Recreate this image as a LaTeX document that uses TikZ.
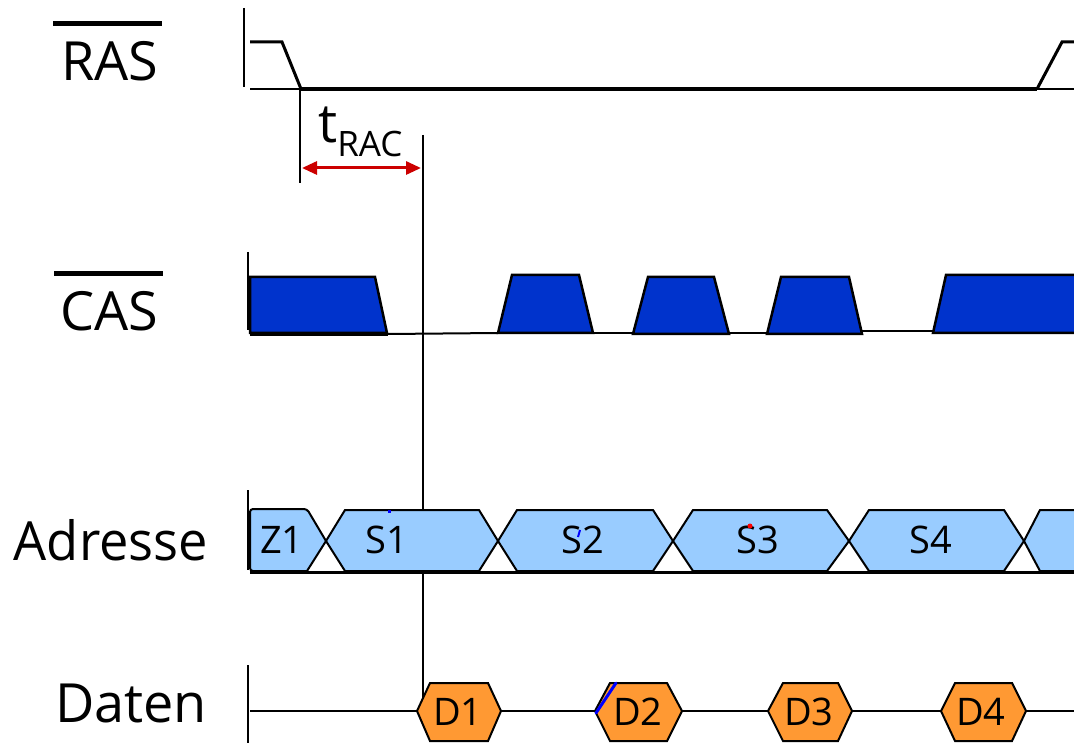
\documentclass[tikz,border=0pt]{standalone}
\usepackage{fontspec}
\setmainfont{Open Sans}
\usetikzlibrary{arrows.meta}
\definecolor{casblue}{RGB}{0,51,204}
\definecolor{adrblue}{RGB}{153,204,255}
\definecolor{datorange}{RGB}{255,153,51}
\definecolor{arrred}{RGB}{204,0,0}
\tikzset{
  tick/.style={line width=2pt},
  edge/.style={line width=3pt, line join=miter},
  lowline/.style={line width=4pt},
  refline/.style={line width=2pt},
  casblock/.style={fill=casblue, draw=black, line width=2.5pt, line join=miter},
  adrblock/.style={fill=adrblue, draw=black, line width=2pt, line join=miter},
  datblock/.style={fill=datorange, draw=black, line width=2pt, line join=miter},
  biglabel/.style={font=\fontsize{54}{60}\selectfont, inner sep=0pt, anchor=base},
  smalllabel/.style={font=\fontsize{38}{42}\selectfont, inner sep=0pt},
  overbar/.style={line width=5pt},
}
\begin{document}
\begin{tikzpicture}[x=1pt,y=-1pt]
\useasboundingbox (0,0) rectangle (1074,743);

% ---------- labels ----------
\node[biglabel] (ras) at (110,81) {RAS};
\node[biglabel] (cas) at (109,331) {CAS};
\node[biglabel] (adr) at (111,560) {\scalebox{0.97}[1]{Adresse}};
\node[biglabel] (dat) at (131,722) {Daten};
\draw[overbar] (53,24) -- (162,24);
\draw[overbar] (54,274) -- (163,274);

% ---------- RAS ----------
\draw[tick] (244,8) -- (244,87);
\coordinate (rasfall) at (301,89);
\coordinate (rasrise) at (1037,89);
\draw[edge] (250,42) -- (282,42) -- (rasfall);
\draw[refline] (250,89) -- (rasfall);
\draw[lowline] (rasfall) -- (rasrise);
\draw[edge] (rasrise) -- (1062,42) -- (1074,42);
\draw[refline] (rasrise) -- (1074,89);

% ---------- t_RAC ----------
\coordinate (tracA) at (300,89);
\coordinate (tracAb) at (300,183);
\coordinate (tracB) at (423,135);
\coordinate (tracBb) at (423,703);
\draw[refline] (tracA) -- (tracAb);
\draw[refline] (tracB) -- (tracBb);
\coordinate (arrL) at (302,168);
\coordinate (arrR) at (421,168);
\draw[arrred, line width=3pt, {Triangle[length=15pt,width=13pt]}-{Triangle[length=15pt,width=13pt]}] (arrL) -- (arrR);
\node[inner sep=0pt, anchor=base west, font=\fontsize{54}{60}\selectfont] (trac) at (318,143) {t\raisebox{-14pt}{\fontsize{35}{40}\selectfont RAC}};

% ---------- CAS ----------
\draw[tick] (248,252) -- (248,330);
\draw[lowline] (250,334) -- (388,334);
\draw[refline] (388,334) -- (498,333);
\draw[refline] (593,333) -- (633,333);
\draw[refline] (729,333) -- (767,333);
\draw[refline] (862,331) -- (933,331);
\draw[casblock] (250,277) -- (375,277) -- (387,333) -- (250,333) -- cycle;
\draw[casblock] (498,333) -- (512,275) -- (579,275) -- (593,333) -- cycle;
\draw[casblock] (633,334) -- (648,277) -- (714,277) -- (729,334) -- cycle;
\draw[casblock] (767,334) -- (781,277) -- (849,277) -- (862,334) -- cycle;
\fill[casblue] (933,333) -- (946,275) -- (1074,275) -- (1074,333) -- cycle;
\draw[line width=2.5pt, line join=miter] (1074,275) -- (946,275) -- (933,333) -- (1074,333);

% ---------- Adresse ----------
\draw[tick] (248,490) -- (248,570);
\draw[adrblock, rounded corners=3pt] (250,509) -- (307,509) [sharp corners] -- (326,541) -- (307,571) [rounded corners=3pt] -- (250,571) -- cycle;
\draw[adrblock] (326,541) -- (345,510) -- (479,510) -- (498,541) -- (479,571) -- (345,571) -- cycle;
\draw[adrblock] (498,541) -- (517,510) -- (653,510) -- (673,541) -- (653,571) -- (517,571) -- cycle;
\draw[adrblock] (673,541) -- (693,510) -- (827,510) -- (849,541) -- (827,571) -- (693,571) -- cycle;
\draw[adrblock] (849,541) -- (869,510) -- (1004,510) -- (1024,541) -- (1004,571) -- (869,571) -- cycle;
\fill[adrblue] (1024,541) -- (1040,510) -- (1074,510) -- (1074,571) -- (1040,571) -- cycle;
\draw[line width=2pt, line join=miter] (1074,510) -- (1040,510) -- (1024,541) -- (1040,571) -- (1074,571);
\draw[line width=3pt] (250,572) -- (1074,572);
\node[smalllabel] (z1) at (282,540) {Z1};
\node[smalllabel] (s1) at (387,540) {S1};
\node[smalllabel] (s2) at (583,540) {S2};
\node[smalllabel] (s3) at (758,540) {S3};
\node[smalllabel] (s4) at (931,540) {S4};

% ---------- Daten ----------
\draw[tick] (248,665) -- (248,743);
\draw[refline] (250,711) -- (417,711);
\draw[refline] (501,711) -- (595,711);
\draw[refline] (682,711) -- (768,711);
\draw[refline] (852,711) -- (941,711);
\draw[refline] (1026,711) -- (1074,711);
\draw[datblock] (417,711) -- (430,683) -- (488,683) -- (501,711) -- (488,741) -- (430,741) -- cycle;
\draw[datblock] (595,711) -- (610,683) -- (667,683) -- (682,711) -- (667,741) -- (610,741) -- cycle;
\draw[datblock] (768,711) -- (783,683) -- (838,683) -- (852,711) -- (838,741) -- (783,741) -- cycle;
\draw[datblock] (941,711) -- (955,683) -- (1012,683) -- (1026,711) -- (1012,741) -- (955,741) -- cycle;
\node[smalllabel] (d1) at (458,712) {D1};
\node[smalllabel] (d2) at (638,712) {D2};
\node[smalllabel] (d3) at (809,712) {D3};
\node[smalllabel] (d4) at (981,712) {D4};

% ---------- stray marks ----------
\fill[blue] (388,509.5) rectangle (391,512.5);
\draw[blue, line width=2pt] (580,530) -- (578,537);
\fill[red] (750,526) circle (2.5pt);
\draw[blue, line width=3pt, line cap=round] (596,713) -- (616,683);
\end{tikzpicture}
\end{document}
